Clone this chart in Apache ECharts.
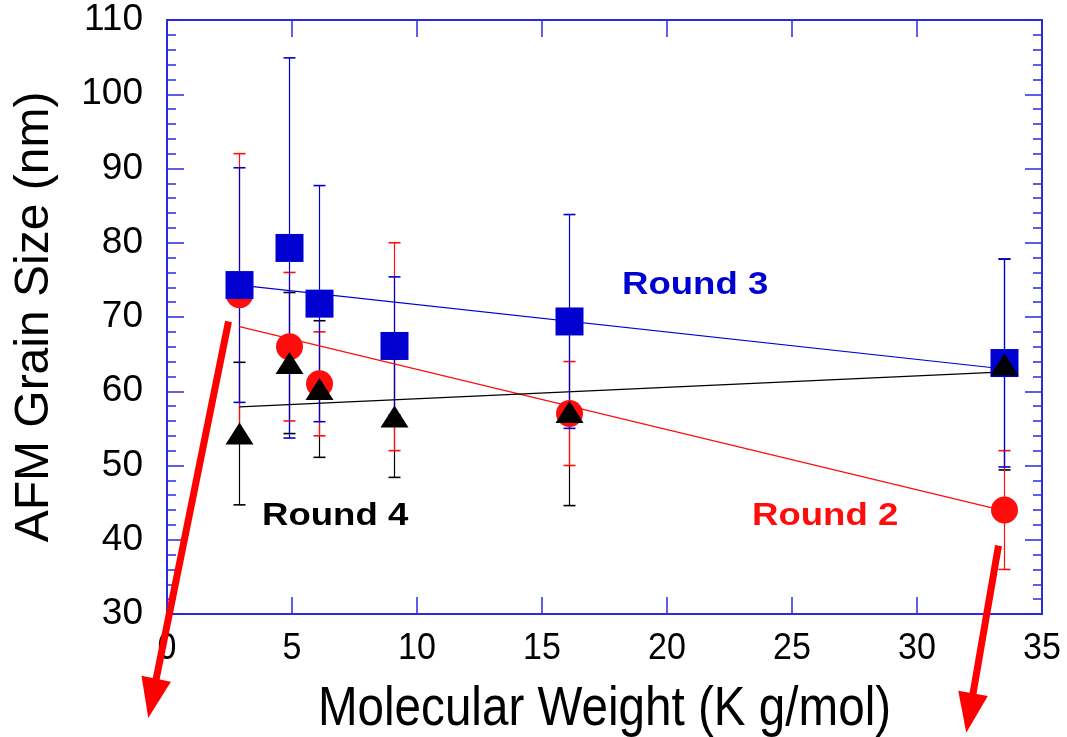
<!DOCTYPE html>
<html>
<head>
<meta charset="utf-8">
<script src="https://cdn.jsdelivr.net/npm/echarts@6/dist/echarts.min.js"></script>
<style>
  html, body { margin: 0; padding: 0; background: #fff; }
  #chart { width: 1067px; height: 737px; }
</style>
</head>
<body>
<div id="chart"></div>
<script>
// Molecular weight of each sample (K g/mol)
const molWeight = [2.9, 4.9, 6.1, 9.1, 16.1, 33.5];

// AFM grain size (nm) and error half-widths per round
const round2 = [73.0, 66.0, 61.0, 66.0, 57.0, 44.0];
const round2Err = [19.0, 10.0, 7.0, 14.0, 7.0, 8.0];
const round3 = [74.3, 79.3, 71.8, 66.1, 69.4, 63.8];
const round3Err = [15.8, 25.6, 15.9, 9.3, 14.4, 14.0];
const round4 = [54.3, 63.8, 60.3, 56.6, 57.2, 63.6];
const round4Err = [9.6, 9.5, 9.2, 8.2, 12.6, 14.2];

// Straight trend lines (end points)
const round2Fit = [[2.9, 68.7], [33.5, 43.9]];
const round3Fit = [[2.9, 74.3], [33.5, 63.0]];
const round4Fit = [[2.9, 57.9], [33.5, 62.6]];

// Molecular-weight axis tick labels (drawn in a condensed face)
const xTickValues = [0, 5, 10, 15, 20, 25, 30, 35];
const xTitle = 'Molecular Weight (K g/mol)';

// Text labels for each round: [x, y, text]
const roundLabels = [
  [18.2, 74.2, 'Round 3'],
  [3.8, 43.1, 'Round 4'],
  [23.4, 43.1, 'Round 2']
];

// Red arrows: [from, to]
const arrows = [
  [[2.46, 69.4], [-0.75, 16.0]],
  [[33.26, 39.2], [31.97, 14.0]]
];

const FONT = "'Liberation Sans', Arial, Helvetica, sans-serif";
const FRAME = '#2a2ae0';
const BLUE = '#0000d0';
const RED = '#ff0d0d';
const BLACK = '#000000';

const chart = echarts.init(document.getElementById('chart'), null, { renderer: 'canvas' });

function errorBars(values, errs, color) {
  return {
    type: 'custom',
    silent: true,
    z: 2,
    data: molWeight.map((x, i) => [x, values[i] - errs[i], values[i] + errs[i]]),
    encode: { x: 0, y: [1, 2] },
    renderItem(params, api) {
      const lo = api.coord([api.value(0), api.value(1)]);
      const hi = api.coord([api.value(0), api.value(2)]);
      const hw = 6;
      const style = { stroke: color, lineWidth: 1.2 };
      return {
        type: 'group',
        children: [
          { type: 'line', shape: { x1: lo[0], y1: lo[1], x2: hi[0], y2: hi[1] }, style },
          { type: 'line', shape: { x1: lo[0] - hw, y1: lo[1], x2: lo[0] + hw, y2: lo[1] }, style: { stroke: color, lineWidth: 1.6 } },
          { type: 'line', shape: { x1: hi[0] - hw, y1: hi[1], x2: hi[0] + hw, y2: hi[1] }, style: { stroke: color, lineWidth: 1.6 } }
        ]
      };
    }
  };
}

function fitLine(points, color) {
  return {
    type: 'line', data: points, symbol: 'none', silent: true, z: 3,
    lineStyle: { color, width: 1.2 }
  };
}

function markers(values, symbol, size, color, z) {
  return {
    type: 'scatter', data: molWeight.map((x, i) => [x, values[i]]),
    symbol, symbolSize: size, z, silent: true,
    itemStyle: { color, opacity: 1 }
  };
}

function frameAxis(extra) {
  return Object.assign({
    type: 'value',
    axisLine: { show: true, onZero: false, lineStyle: { color: FRAME, width: 2 } },
    axisTick: { show: true, inside: true, length: 17, lineStyle: { color: FRAME, width: 1.5 } },
    splitLine: { show: false },
    axisLabel: { show: false }
  }, extra);
}

const option = {
  animation: false,
  backgroundColor: '#fff',
  grid: { left: 167, right: 25, top: 20, bottom: 123, containLabel: false, outerBoundsMode: 'none' },
  xAxis: [
    frameAxis({ min: 0, max: 35, interval: 5, position: 'bottom' }),
    frameAxis({ min: 0, max: 35, interval: 5, position: 'top' })
  ],
  yAxis: [
    frameAxis({
      min: 30, max: 110, interval: 10, position: 'left',
      minorTick: { show: true, splitNumber: 5, length: 9, lineStyle: { color: FRAME, width: 1.5 } },
      axisLabel: { show: true, color: '#000', fontSize: 37, fontFamily: FONT, margin: 24 },
      name: 'AFM Grain Size (nm)', nameLocation: 'middle', nameGap: 108,
      nameTextStyle: { color: '#000', fontSize: 48, fontFamily: FONT }
    }),
    frameAxis({
      min: 30, max: 110, interval: 10, position: 'right',
      minorTick: { show: true, splitNumber: 5, length: 9, lineStyle: { color: FRAME, width: 1.5 } }
    })
  ],
  series: [
    errorBars(round4, round4Err, BLACK),
    errorBars(round2, round2Err, RED),
    errorBars(round3, round3Err, BLUE),
    fitLine(round2Fit, RED),
    fitLine(round3Fit, BLUE),
    fitLine(round4Fit, BLACK),
    markers(round2, 'circle', 27, RED, 5),
    markers(round3, 'rect', 28, BLUE, 6),
    markers(round4, 'triangle', [28, 22], BLACK, 7)
  ]
};

chart.setOption(option);

// Annotations placed from data coordinates
const toPx = (p) => chart.convertToPixel({ gridIndex: 0 }, p);
const labelColors = { 'Round 2': RED, 'Round 3': BLUE, 'Round 4': BLACK };
const graphics = [];

// Condensed x tick labels and axis title below the bottom axis
const axisY = toPx([0, 30])[1];
xTickValues.forEach((v) => {
  const p = toPx([v, 30]);
  graphics.push({
    type: 'text', x: p[0], y: axisY + 35, scaleX: 0.92, z: 10, silent: true,
    style: { text: String(v), fill: '#000', font: `37px ${FONT}`, textAlign: 'center', textVerticalAlign: 'middle' }
  });
});
const midX = (toPx([0, 30])[0] + toPx([35, 30])[0]) / 2;
graphics.push({
  type: 'text', x: midX, y: axisY + 96, scaleX: 0.85, z: 10, silent: true,
  style: { text: xTitle, fill: '#000', font: `56px ${FONT}`, textAlign: 'center', textVerticalAlign: 'middle' }
});

roundLabels.forEach(([x, y, text]) => {
  const p = toPx([x, y]);
  graphics.push({
    type: 'text', x: p[0], y: p[1], scaleX: 1.18, z: 20, silent: true,
    style: {
      text, fill: labelColors[text], font: `bold 31px ${FONT}`,
      textAlign: 'left', textVerticalAlign: 'middle'
    }
  });
});

arrows.forEach(([from, to]) => {
  const p0 = toPx(from), p1 = toPx(to);
  const dx = p1[0] - p0[0], dy = p1[1] - p0[1];
  const len = Math.hypot(dx, dy);
  const ux = dx / len, uy = dy / len;
  const headLen = 40, headHalf = 15;
  const bx = p1[0] - ux * headLen, by = p1[1] - uy * headLen;
  graphics.push({
    type: 'line', z: 30, silent: true,
    shape: { x1: p0[0], y1: p0[1], x2: bx + ux * 3, y2: by + uy * 3 },
    style: { stroke: '#ff0000', lineWidth: 7 }
  });
  graphics.push({
    type: 'polygon', z: 30, silent: true,
    shape: { points: [[p1[0], p1[1]], [bx - uy * headHalf, by + ux * headHalf], [bx + uy * headHalf, by - ux * headHalf]] },
    style: { fill: '#ff0000' }
  });
});

chart.setOption({ graphic: graphics });
</script>
</body>
</html>
